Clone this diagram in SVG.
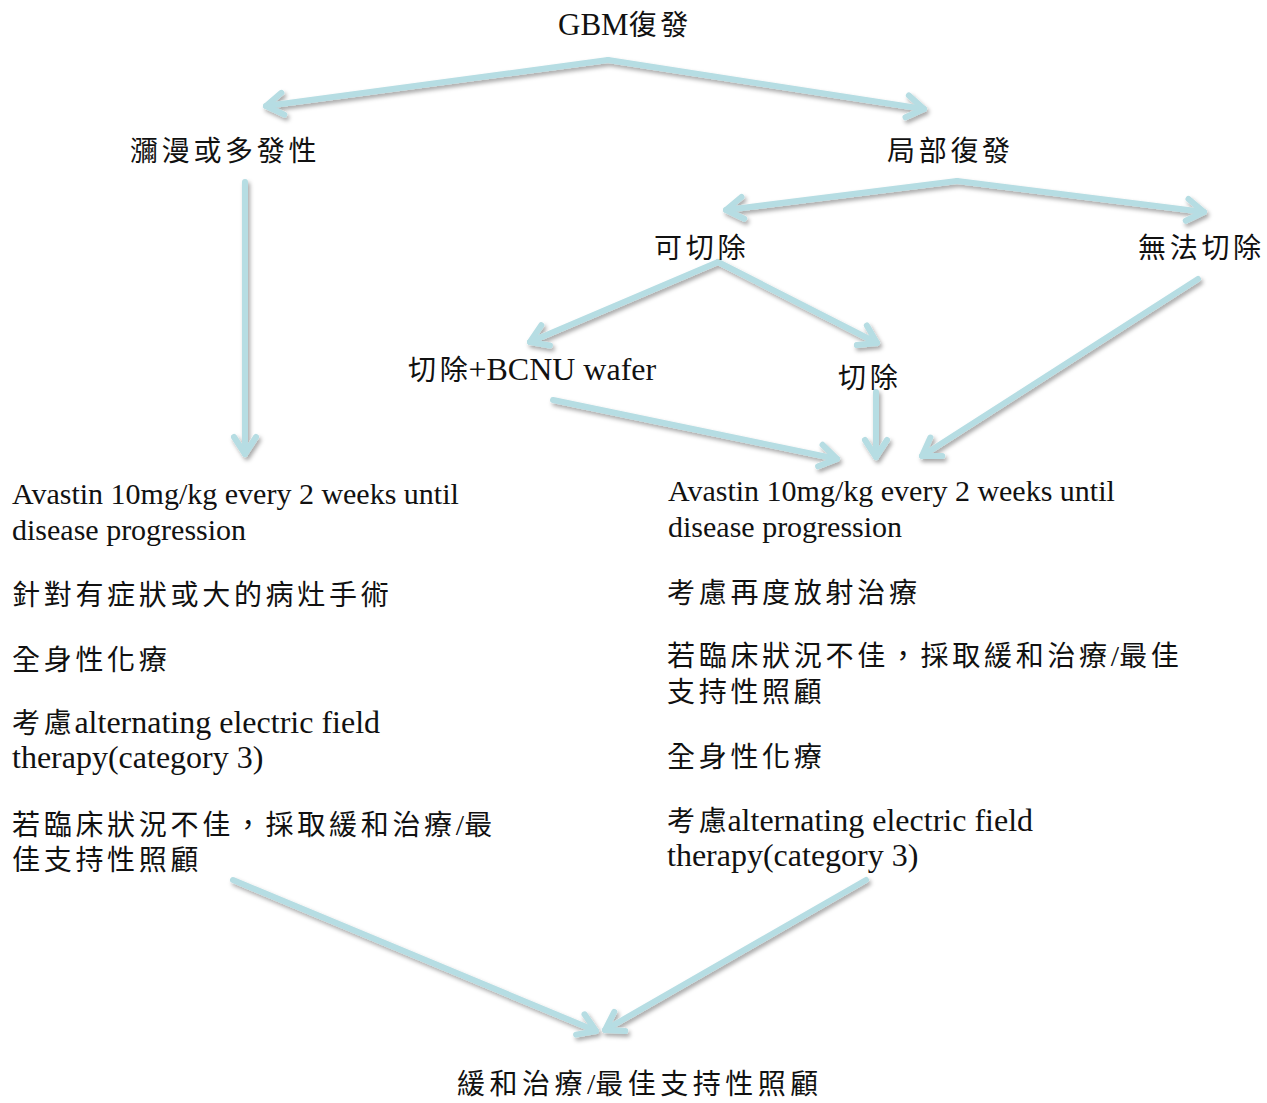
<svg xmlns="http://www.w3.org/2000/svg" width="1267" height="1103" viewBox="0 0 1267 1103">
<style>
text{font-family:"Liberation Serif","Noto Sans CJK TC",serif;fill:#111}
.zh{font-family:"Noto Sans CJK TC","Noto Sans CJK SC",sans-serif;font-size:28px;letter-spacing:3.7px}
.e30{font-family:"Liberation Serif",serif;font-size:30px;letter-spacing:0}
.e32{font-family:"Liberation Serif",serif;font-size:32px;letter-spacing:0}
.conn line{stroke:#b6dde3;stroke-width:6;stroke-linecap:round;fill:none;marker-end:url(#ah)}
</style>
<defs>
<filter id="sh" x="-10%" y="-10%" width="130%" height="130%">
<feDropShadow dx="2" dy="3" stdDeviation="2" flood-color="#000" flood-opacity="0.35"/>
</filter>
<marker id="ah" markerUnits="userSpaceOnUse" viewBox="-30 -20 40 40" markerWidth="40" markerHeight="40" refX="0" refY="0" orient="auto">
<path d="M-17,-11 L0,0 L-17,11" fill="none" stroke="#b6dde3" stroke-width="6" stroke-linecap="round" stroke-linejoin="round"/>
</marker>
</defs>
<rect width="1267" height="1103" fill="#fff"/>

<g id="connectors" class="conn" filter="url(#sh)">
<line x1="608" y1="60" x2="266" y2="106"/>
<line x1="608" y1="60" x2="924" y2="109"/>
<line x1="245" y1="182" x2="245" y2="454"/>
<line x1="957" y1="181" x2="726" y2="210"/>
<line x1="957" y1="181" x2="1204" y2="212"/>
<line x1="718" y1="262" x2="530" y2="342"/>
<line x1="718" y1="262" x2="877" y2="343"/>
<line x1="553" y1="400" x2="837" y2="459"/>
<line x1="876" y1="392" x2="876" y2="457"/>
<line x1="1198" y1="279" x2="922" y2="456"/>
<line x1="233" y1="880" x2="596" y2="1031"/>
<line x1="866" y1="880" x2="605" y2="1030"/>
</g>

<g id="n-gbm"><text x="558" y="35"><tspan class="e32" style="font-size:31px">GBM</tspan><tspan class="zh">復發</tspan></text></g>
<g id="n-diffuse"><text class="zh" x="130" y="161">瀰漫或多發性</text></g>
<g id="n-local"><text class="zh" x="887" y="161">局部復發</text></g>
<g id="n-resectable"><text class="zh" x="654" y="258">可切除</text></g>
<g id="n-unresectable"><text class="zh" x="1138" y="258">無法切除</text></g>
<g id="n-bcnu"><text x="408" y="380"><tspan class="zh">切除</tspan><tspan class="e32" dx="-3">+BCNU wafer</tspan></text></g>
<g id="n-resect"><text class="zh" x="838" y="388">切除</text></g>

<g id="n-left">
<text class="e30" x="12" y="504">Avastin 10mg/kg every 2 weeks until</text>
<text class="e30" x="12" y="540">disease progression</text>
<text class="zh" x="12" y="605">針對有症狀或大的病灶手術</text>
<text class="zh" x="12" y="670">全身性化療</text>
<text x="12" y="733"><tspan class="zh">考慮</tspan><tspan class="e32" dx="-1">alternating electric field</tspan></text>
<text class="e32" x="12" y="768">therapy(category 3)</text>
<text class="zh" x="12" y="835">若臨床狀況不佳，採取緩和治療<tspan class="e30">/</tspan>最</text>
<text class="zh" x="12" y="870">佳支持性照顧</text>
</g>

<g id="n-right">
<text class="e30" x="668" y="501">Avastin 10mg/kg every 2 weeks until</text>
<text class="e30" x="668" y="537">disease progression</text>
<text class="zh" x="667" y="603">考慮再度放射治療</text>
<text class="zh" x="667" y="666">若臨床狀況不佳，採取緩和治療<tspan class="e30">/</tspan>最佳</text>
<text class="zh" x="667" y="702">支持性照顧</text>
<text class="zh" x="667" y="767">全身性化療</text>
<text x="667" y="831"><tspan class="zh">考慮</tspan><tspan class="e32" dx="-3">alternating electric field</tspan></text>
<text class="e32" x="667" y="866">therapy(category 3)</text>
</g>

<g id="n-palliative"><text class="zh" x="457" y="1094" style="letter-spacing:4.5px">緩和治療<tspan class="e30">/</tspan>最佳支持性照顧</text></g>
</svg>
